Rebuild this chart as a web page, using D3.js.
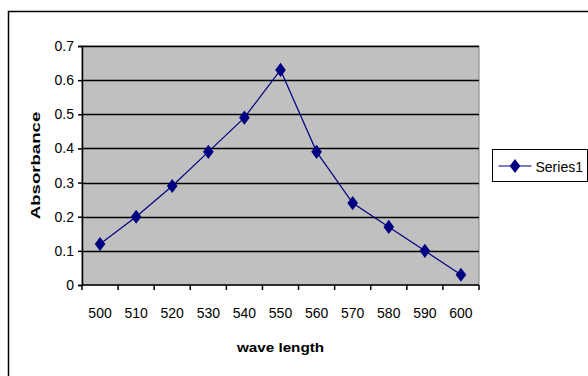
<!DOCTYPE html>
<html>
<head>
<meta charset="utf-8">
<script src="https://cdn.jsdelivr.net/npm/d3@7"></script>
<style>
body{margin:0;background:#fff;}
text{font-family:"Liberation Sans",Arial,sans-serif;}
</style>
</head>
<body>
<div id="chart-area"></div>
<script>
var wavelengths=[500,510,520,530,540,550,560,570,580,590,600];
var absorbance=[0.12,0.20,0.29,0.39,0.49,0.63,0.39,0.24,0.17,0.10,0.03];
var yTicks=[0,0.1,0.2,0.3,0.4,0.5,0.6,0.7];
var seriesName="Series1";

var W=588,H=376;
var margin={left:82,top:46,right:109,bottom:91};
var width=W-margin.left-margin.right;
var height=H-margin.top-margin.bottom;

var svg=d3.select("#chart-area").append("svg")
    .attr("width",W)
    .attr("height",H);

// outer chart border
svg.append("rect")
    .attr("x",8.5).attr("y",11.5)
    .attr("width",W+10).attr("height",H+10)
    .attr("fill","#fff")
    .attr("stroke","#000")
    .attr("stroke-width",1.5);

var g=svg.append("g")
    .attr("transform","translate("+margin.left+","+margin.top+")");

var x=d3.scaleBand()
    .domain(wavelengths)
    .range([0,width]);

var y=d3.scaleLinear()
    .domain([0,0.7])
    .range([height,0]);

// plot area
g.append("rect")
    .attr("width",width).attr("height",height)
    .attr("fill","#c0c0c0")
    .attr("stroke","#808080")
    .attr("stroke-width",1);

// gridlines
g.selectAll(".grid").data(yTicks.filter(d=>d>0)).enter().append("line")
    .attr("class","grid")
    .attr("x1",0).attr("x2",width)
    .attr("y1",d=>Math.round(y(d))+0.5).attr("y2",d=>Math.round(y(d))+0.5)
    .attr("stroke","#000")
    .attr("stroke-width",1.5);

var leftAxis=d3.axisLeft(y)
    .tickValues(yTicks)
    .tickFormat(d=>d===0?"0":d3.format(".1f")(d))
    .tickSize(4)
    .tickPadding(4);

var yAx=g.append("g")
    .attr("class","y axis")
    .call(leftAxis);
yAx.select(".domain").attr("stroke","#000").attr("stroke-width",1.5);
yAx.selectAll("line").attr("stroke","#000").attr("stroke-width",1.5);
yAx.selectAll("text").attr("font-size","14px").attr("fill","#000");

// x axis, ticks between categories
var xAx=g.append("g")
    .attr("class","x axis")
    .attr("transform","translate(0,"+height+")");
xAx.append("line")
    .attr("x1",0).attr("x2",width)
    .attr("stroke","#000").attr("stroke-width",1.5);
var bounds=wavelengths.map(d=>x(d)).concat([width]);
xAx.selectAll(".xtick").data(bounds).enter().append("line")
    .attr("class","xtick")
    .attr("x1",d=>d).attr("x2",d=>d)
    .attr("y1",0).attr("y2",5)
    .attr("stroke","#000").attr("stroke-width",1.5);
xAx.selectAll(".xlabel").data(wavelengths).enter().append("text")
    .attr("class","xlabel")
    .attr("x",d=>x(d)+x.bandwidth()/2)
    .attr("y",33)
    .attr("text-anchor","middle")
    .attr("font-size","14px")
    .text(d=>d);

// axis titles (stretched along the baseline like the original)
g.append("text")
    .attr("transform","translate("+(width/2)+","+(height+67)+") scale(1.13,1)")
    .attr("text-anchor","middle")
    .attr("font-size","13.5px")
    .attr("font-weight","bold")
    .text("wave length");

g.append("text")
    .attr("transform","translate(-42,"+(height/2)+") rotate(-90) scale(1.38,1)")
    .attr("text-anchor","middle")
    .attr("font-size","13.5px")
    .attr("font-weight","bold")
    .text("Absorbance");

// series
var line=d3.line()
    .x((d,i)=>x(wavelengths[i])+x.bandwidth()/2)
    .y(d=>y(d));

g.append("path")
    .datum(absorbance)
    .attr("fill","none")
    .attr("stroke","#000080")
    .attr("stroke-width",1.2)
    .attr("d",line);

var diamond=d3.symbol().type(d3.symbolDiamond).size(58);
g.selectAll(".pt").data(absorbance).enter().append("path")
    .attr("class","pt")
    .attr("d",diamond)
    .attr("transform",(d,i)=>"translate("+(x(wavelengths[i])+x.bandwidth()/2)+","+y(d)+") scale(1.3,1)")
    .attr("fill","#000080");

// legend
var legend=svg.append("g")
    .attr("transform","translate(492.5,149.5)");
legend.append("rect")
    .attr("width",95).attr("height",32)
    .attr("fill","#fff")
    .attr("stroke","#000")
    .attr("stroke-width",1);
legend.append("line")
    .attr("x1",6).attr("x2",39)
    .attr("y1",16.5).attr("y2",16.5)
    .attr("stroke","#000080").attr("stroke-width",1.2);
legend.append("path")
    .attr("d",diamond)
    .attr("transform","translate(22.5,16.5) scale(1.3,1)")
    .attr("fill","#000080");
legend.append("text")
    .attr("x",43)
    .attr("y",22)
    .attr("font-size","14px")
    .text(seriesName);
</script>
</body>
</html>
